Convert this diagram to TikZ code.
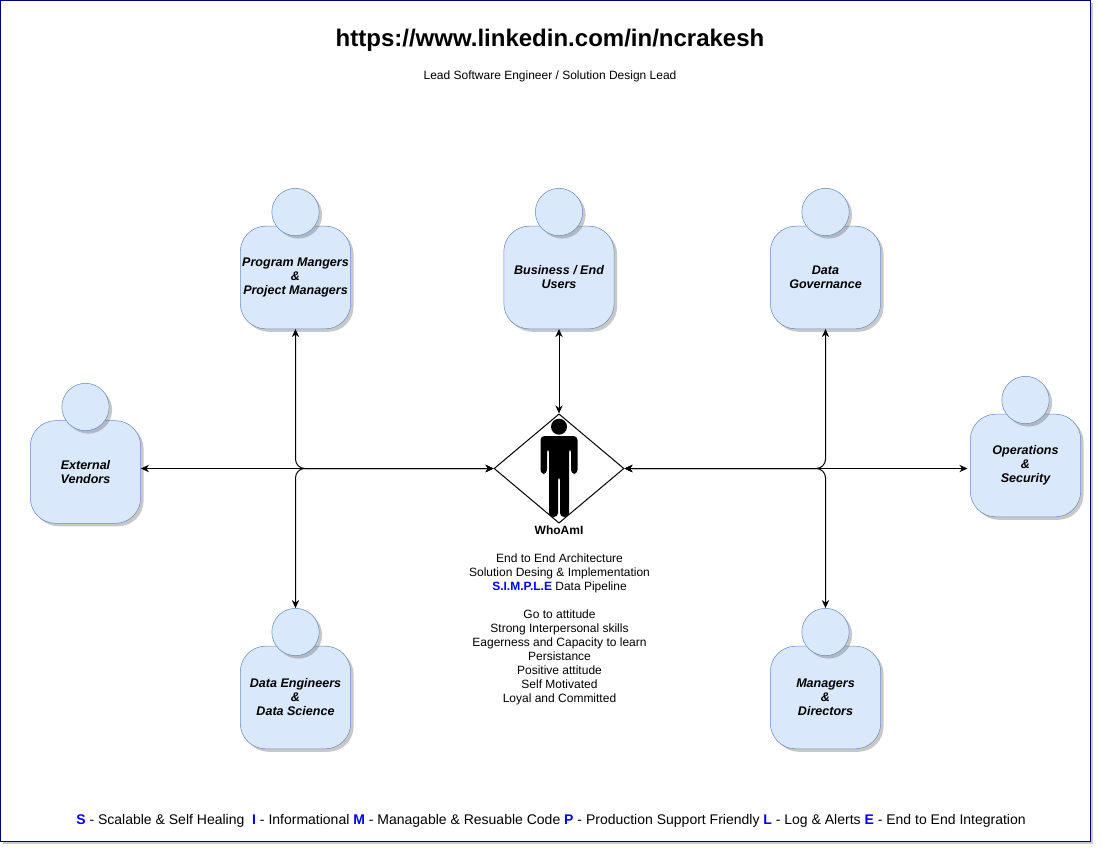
\documentclass[tikz,border=0pt]{standalone}
\usepackage{fontspec}
\setmainfont{Liberation Sans}
\usetikzlibrary{shapes.geometric,shadows,arrows.meta}
\definecolor{bodyfill}{HTML}{DAE8FC}
\definecolor{bodyline}{HTML}{6C8EBF}
\definecolor{framecol}{HTML}{000080}
\begin{document}
\begin{tikzpicture}[>={Stealth[length=6pt,width=5.5pt]},x=0.75pt,y=-0.75pt,
  softshadow/.style={drop shadow={shadow xshift=2.2pt,shadow yshift=-2.2pt,opacity=0.3,fill=black!70}},
  body/.style={draw=bodyline,fill=bodyfill,rounded corners=19pt,minimum width=82.75pt,minimum height=77pt,inner sep=0pt,softshadow,font=\fontsize{9.4}{10.5}\selectfont\bfseries\itshape,align=center,execute at begin node={\rule{0pt}{12.5pt}}},
  head/.style={circle,draw=bodyline,fill=bodyfill,minimum size=35.5pt,inner sep=0pt,softshadow},
  plain/.style={align=center,inner sep=0pt,font=\fontsize{9}{10.5}\selectfont},
  link/.style={<->,rounded corners=7pt,line width=0.75pt}]
\useasboundingbox (0,0) rectangle (1102,853);
\draw[draw=framecol,fill=white,line width=0.75pt,softshadow] (0.5,0.5) rectangle (1090.5,841);
\node[font=\fontsize{18}{21}\selectfont\bfseries,inner sep=0pt] (title) at (550,40) {https://www.linkedin.com/in/ncrakesh};
\node[plain] (subtitle) at (550,76) {Lead Software Engineer / Solution Design Lead};
% people around the centre
\node[body] (pgm) at (295.5,277.5) {Program Mangers\\\&\\Project Managers};
\node[head] (pgmhead) at (295.5,212) {};
\node[body] (biz) at (559,277.5) {Business / End\\Users};
\node[head] (bizhead) at (559,212) {};
\node[body] (gov) at (825.5,277.5) {Data\\Governance};
\node[head] (govhead) at (825.5,212) {};
\node[body] (ven) at (85.5,472) {External\\Vendors};
\node[head] (venhead) at (85.5,407) {};
\node[body] (ops) at (1025.5,465.5) {Operations\\\&\\Security};
\node[head] (opshead) at (1025.5,400) {};
\node[body] (eng) at (295.5,697.5) {Data Engineers\\\&\\Data Science};
\node[head] (enghead) at (295.5,632) {};
\node[body] (mgr) at (825.5,697.5) {Managers\\\&\\Directors};
\node[head] (mgrhead) at (825.5,632) {};
% centre
\node[diamond,draw,line width=0.75pt,minimum width=97.5pt,minimum height=82pt,aspect=1.19,inner sep=0pt] (who) at (559,468.5) {};
\fill (559,426.7) circle (6pt);
\fill[rounded corners=3pt] (540.5,474) -- (540.5,436) -- (577.5,436) -- (577.5,474) -- (571,474) -- (571,448) -- (569,448) -- (569,517) -- (560,517) -- (560,476) -- (558,476) -- (558,517) -- (549,517) -- (549,448) -- (547,448) -- (547,474) -- cycle;
\node[plain,font=\fontsize{9}{10.5}\selectfont\bfseries] (whoname) at (559,530) {WhoAmI};
\node[plain,anchor=north] (whotext) at (559.5,554) {End to End Architecture\\Solution Desing \& Implementation\\\textcolor{blue}{\textbf{S.I.M.P.L.E}} Data Pipeline\\[10.5pt]Go to attitude\\Strong Interpersonal skills\\Eagerness and Capacity to learn\\Persistance\\Positive attitude\\Self Motivated\\Loyal and Committed};
\node[plain,font=\fontsize{10.5}{12}\selectfont] (legend) at (551,821) {\textcolor{blue}{\textbf{S}} - Scalable \& Self Healing\ \ \textcolor{blue}{\textbf{I}} - Informational \textcolor{blue}{\textbf{M}} - Managable \& Resuable Code \textcolor{blue}{\textbf{P}} - Production Support Friendly \textcolor{blue}{\textbf{L}} - Log \& Alerts \textcolor{blue}{\textbf{E}} - End to End Integration};
% connectors
\draw[link] (pgm.south) |- (who.west);
\draw[link] (eng |- enghead.north) |- (who.west);
\draw[link] (ven.east |- who.west) -- (who.west);
\draw[link] (biz.south) -- (who.north);
\draw[link] (gov.south) |- (who.east);
\draw[link] (mgr |- mgrhead.north) |- (who.east);
\draw[link,shorten >=2pt] (who.east) -- (who.east -| ops.west);
\end{tikzpicture}
\end{document}
